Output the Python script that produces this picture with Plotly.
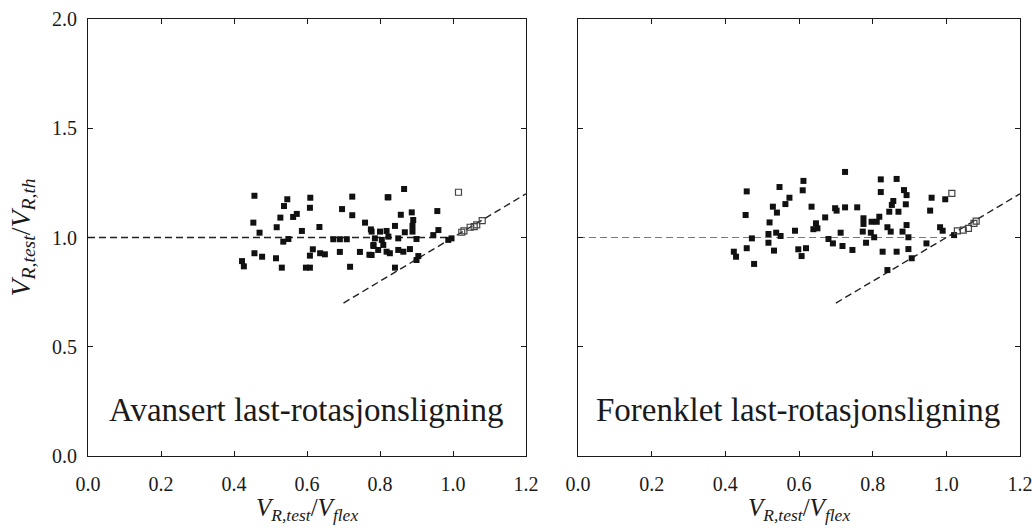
import plotly.graph_objects as go

# ---- data ----
left_x = [0.456,0.546,0.537,0.609,0.608,0.724,0.821,0.696,0.724,0.572,0.562,0.527,0.453,0.517,0.634,0.586,0.470,0.759,0.775,0.535,0.549,0.672,0.690,0.709,0.782,0.456,0.477,0.515,0.616,0.608,0.636,0.649,0.690,0.745,0.771,0.422,0.427,0.531,0.597,0.608,0.718,
          0.866,0.823,0.857,0.887,0.957,0.891,0.889,0.841,0.868,0.889,0.960,0.946,0.900,0.850,0.777,0.800,0.818,0.786,0.805,0.823,0.809,0.795,0.782,0.818,0.777,0.850,0.864,0.882,0.827,0.905,0.900,0.841,0.987,0.996]
left_y = [1.191,1.175,1.144,1.182,1.136,1.187,1.184,1.130,1.102,1.108,1.094,1.091,1.068,1.047,1.048,1.030,1.022,1.068,1.037,0.981,0.993,0.992,0.992,0.992,0.961,0.928,0.912,0.905,0.946,0.917,0.928,0.923,0.934,0.934,0.921,0.892,0.868,0.862,0.862,0.862,0.866,
          1.222,1.184,1.104,1.115,1.121,1.080,1.053,1.053,1.024,1.027,1.034,1.011,0.993,0.996,1.027,1.027,1.030,0.996,0.989,1.004,0.966,0.943,0.966,0.935,0.920,0.943,0.935,0.947,0.928,0.915,0.897,0.862,0.989,0.996]
left_open_x = [1.015,1.024,1.030,1.047,1.058,1.065,1.080]
left_open_y = [1.207,1.024,1.030,1.047,1.050,1.058,1.077]

right_x = [0.725,0.458,0.547,0.612,0.610,0.574,0.563,0.529,0.540,0.455,0.520,0.634,0.671,0.698,0.702,0.725,0.758,0.646,0.639,0.650,0.589,0.517,0.538,0.550,0.472,0.517,0.680,0.692,0.713,0.718,0.745,0.458,0.423,0.429,0.532,0.598,0.619,0.607,0.478,
           0.822,0.865,0.822,0.885,0.892,0.997,0.960,0.956,0.856,0.852,0.845,0.870,0.890,0.775,0.775,0.797,0.811,0.818,0.773,0.795,0.804,0.782,0.840,0.849,0.881,0.892,0.897,0.983,0.990,0.946,0.827,0.865,0.897,0.906,0.840,1.021]
right_y = [1.300,1.211,1.231,1.259,1.216,1.182,1.153,1.141,1.114,1.103,1.069,1.141,1.092,1.134,1.123,1.138,1.138,1.065,1.038,1.042,1.031,1.016,1.022,1.007,0.996,0.976,0.993,0.973,1.022,0.961,0.943,0.951,0.935,0.912,0.940,0.946,0.951,0.915,0.879,
           1.266,1.268,1.208,1.217,1.194,1.175,1.182,1.123,1.167,1.149,1.118,1.118,1.152,1.088,1.062,1.072,1.072,1.095,1.027,1.022,1.001,0.976,1.047,1.027,1.027,1.057,1.001,1.047,1.031,0.973,0.935,0.935,0.947,0.905,0.851,1.011]
right_open_x = [1.015,1.030,1.046,1.060,1.075,1.081]
right_open_y = [1.202,1.030,1.034,1.042,1.065,1.075]

ref_h_x = [0.0, 1.0]
ref_h_y = [1.0, 1.0]
ref_d_x = [0.7, 1.2]
ref_d_y = [0.7, 1.2]

x_ticks = [0.0, 0.2, 0.4, 0.6, 0.8, 1.0, 1.2]
y_ticks = [0.0, 0.5, 1.0, 1.5, 2.0]
panel_labels = ["Avansert last-rotasjonsligning", "Forenklet last-rotasjonsligning"]
label_pos = (0.597, 0.21)
x_title = "<i>V</i><sub><i>R,test</i></sub>/<i>V</i><sub><i>flex</i></sub>"
y_title = "<i>V</i><sub><i>R,test</i></sub>/<i>V</i><sub><i>R,th</i></sub>"

SERIF = "Liberation Serif"
INK = "#1a1a1a"
fig = go.Figure()

def add_panel(xa, ya, fx, fy, ox, oy, hcolor, hwidth):
    fig.add_trace(go.Scatter(x=ref_h_x, y=ref_h_y, xaxis=xa, yaxis=ya, mode="lines",
                             line=dict(color=hcolor, width=hwidth, dash="7px,4px"), showlegend=False))
    fig.add_trace(go.Scatter(x=ref_d_x, y=ref_d_y, xaxis=xa, yaxis=ya, mode="lines",
                             line=dict(color="#222", width=1.4, dash="7px,4px"), showlegend=False))
    fig.add_trace(go.Scatter(x=fx, y=fy, xaxis=xa, yaxis=ya, mode="markers",
                             marker=dict(symbol="square", size=6, color="#111", line=dict(width=0)),
                             showlegend=False))
    fig.add_trace(go.Scatter(x=ox, y=oy, xaxis=xa, yaxis=ya, mode="markers",
                             marker=dict(symbol="square-open", size=6, color="#444", line=dict(width=1.2)),
                             showlegend=False))

add_panel("x", "y", left_x, left_y, left_open_x, left_open_y, "#222", 1.4)
add_panel("x2", "y2", right_x, right_y, right_open_x, right_open_y, "#777", 1.1)

common_x = dict(range=[0, 1.2], tickvals=x_ticks, ticktext=[f"{v:.1f}" for v in x_ticks],
                showline=True, linecolor=INK, linewidth=1, mirror="ticks",
                ticks="inside", ticklen=5, tickcolor=INK, showgrid=False, zeroline=False,
                ticklabelstandoff=10, automargin=False, ticklabeloverflow="allow",
                tickfont=dict(family=SERIF, size=20, color=INK))
common_y = dict(range=[0, 2.0], tickvals=y_ticks,
                showline=True, linecolor=INK, linewidth=1, mirror="ticks",
                ticks="inside", ticklen=5, tickcolor=INK, showgrid=False, zeroline=False,
                automargin=False, ticklabeloverflow="allow",
                tickfont=dict(family=SERIF, size=20, color=INK))

# plot area: x 88..1020 px, y 19..456 px
fig.update_layout(
    width=1032, height=528,
    margin=dict(l=88, r=12, t=19, b=72),
    paper_bgcolor="white", plot_bgcolor="white",
    xaxis=dict(domain=[0.0, 0.46996], anchor="y", **common_x),
    xaxis2=dict(domain=[0.5258, 1.0], anchor="y2", **common_x),
    yaxis=dict(domain=[0.0, 1.0], anchor="x", ticktext=[f"{v:.1f}" for v in y_ticks],
               ticklabelstandoff=6, **common_y),
    yaxis2=dict(domain=[0.0, 1.0], anchor="x2", showticklabels=False, **common_y),
)

# axis titles
for dom in ([0.0, 0.46996], [0.5258, 1.0]):
    fig.add_annotation(x=(dom[0] + dom[1]) / 2, y=-0.123, xref="paper", yref="paper",
                       text=x_title, showarrow=False, xanchor="center", yanchor="middle",
                       font=dict(family=SERIF, size=25, color=INK))
fig.add_annotation(x=-0.0708, y=0.5, xref="paper", yref="paper", text=y_title, textangle=-90,
                   showarrow=False, xanchor="center", yanchor="middle",
                   font=dict(family=SERIF, size=28, color=INK))

for i, (xr, yr) in enumerate([("x", "y"), ("x2", "y2")]):
    fig.add_annotation(x=label_pos[0], y=label_pos[1], xref=xr, yref=yr, text=panel_labels[i],
                       showarrow=False, xanchor="center", yanchor="middle",
                       font=dict(family=SERIF, size=33, color=INK))

fig.write_html("out.html", config={"displayModeBar": False},
               post_script="document.body.style.margin='0';document.body.style.overflow='hidden';")
